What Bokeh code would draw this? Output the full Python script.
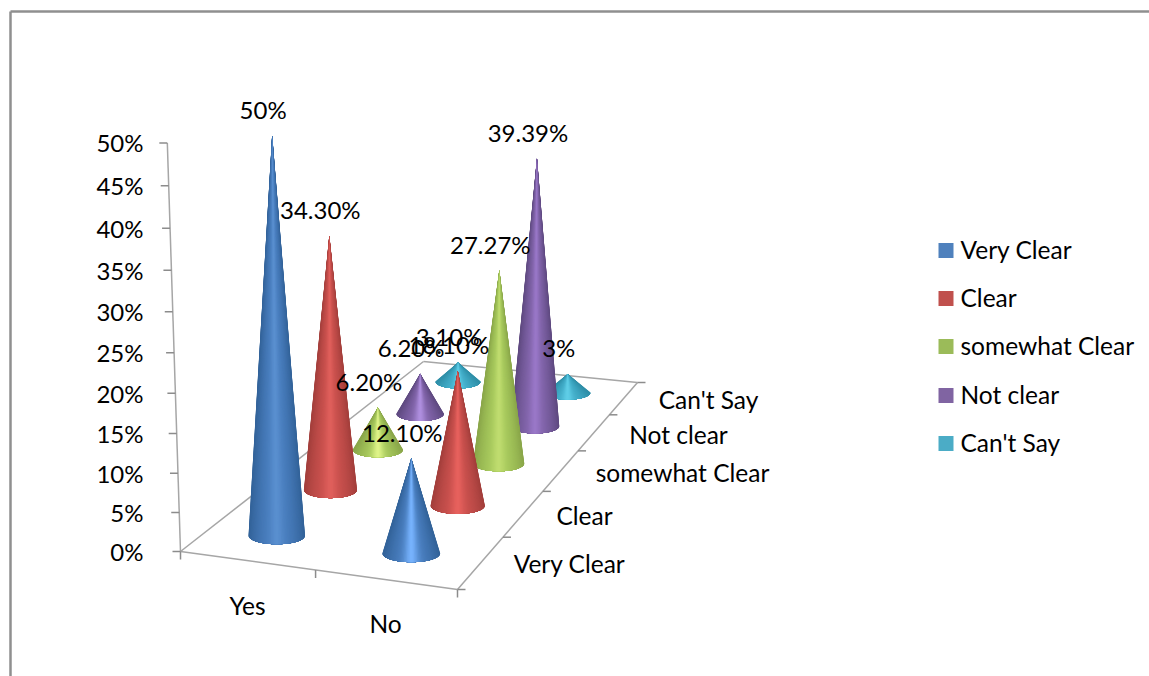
import numpy as np
from bokeh.plotting import figure
from bokeh.models import ColumnDataSource
from bokeh.core.properties import value
from bokeh.embed import file_html
from bokeh.resources import INLINE

# ---------- data ----------
CATEGORIES = ["Yes", "No"]
SERIES = ["Very Clear", "Clear", "somewhat Clear", "Not clear", "Can't Say"]
YES_VALUES = [50.0, 34.30, 6.20, 6.20, 3.10]
NO_VALUES = [12.10, 18.10, 27.27, 39.39, 3.0]
YES_LABELS = ["50%", "34.30%", "6.20%", "6.20%", "3.10%"]
NO_LABELS = ["12.10%", "18.10%", "27.27%", "39.39%", "3%"]
Y_TICKS = [0, 5, 10, 15, 20, 25, 30, 35, 40, 45, 50]
Y_MAX = 50.0

# ---------- styles ----------
LEGEND_COLORS = ["#4f81bd", "#c0504d", "#9bbb59", "#8064a2", "#4bacc6"]
EDGE = ["#336399", "#a33f3c", "#8aa64a", "#5f4a80", "#2e8fa8"]
MID = ["#4a7fc0", "#cc524f", "#a9cc5e", "#8466ad", "#45b0cc"]
HI_YES = ["#5a90d0", "#e0605c", "#e0f58a", "#b090e0", "#60cfe8"]
HI_NO = ["#78b4ff", "#e8625e", "#c0dd70", "#9a78c8", "#60cfe8"]
AXIS = "#a6a6a6"
TICK = "#8c8c8c"
FONT = value("Lato")
SIZE = "24px"
WORD_SIZE = "24.5px"

# ---------- camera: floor corners in page pixels ----------
FLOOR = {(0, 0): (180, 551), (2, 0): (457, 589), (2, 5): (637, 382), (0, 5): (423, 361)}


def homography(corners):
    a, b = [], []
    for (u, v), (x, y) in corners.items():
        a.append([u, v, 1, 0, 0, 0, -u * x, -v * x]); b.append(x)
        a.append([0, 0, 0, u, v, 1, -u * y, -v * y]); b.append(y)
    return np.append(np.linalg.solve(np.array(a, float), np.array(b, float)), 1).reshape(3, 3)


H = homography(FLOOR)


def floor(u, v):
    x, y, w = H @ np.array([u, v, 1.0])
    return x / w, y / w


def rise(pct):
    t = pct / Y_MAX
    return t / (t + (1 - t) * 1.055) if t > 0 else 0.0


def scale_at(y):
    return 322 + 0.515 * (y - 383)


def project(u, v, pct):
    x, y = floor(u, v)
    s = scale_at(y)
    d = rise(pct) * s
    lean = 5.6e-7 * (x - 420) * abs(x - 420)
    return x + lean * d, y - d


def hex2rgb(c):
    return np.array([int(c[i:i + 2], 16) for i in (1, 3, 5)], float)


def shade(edge, mid, hi, t):
    e, m, h = hex2rgb(edge), hex2rgb(mid), hex2rgb(hi)
    a = 1 - abs(t) ** 2.2
    c = e + (m - e) * a + (h - m) * np.exp(-(t / 0.28) ** 2)
    c = np.clip(c, 0, 255).astype(int)
    return "#%02x%02x%02x" % tuple(c)


p = figure(width=1149, height=676, x_range=(0, 1149), y_range=(676, 0),
           output_backend="svg", toolbar_location=None, min_border=0,
           outline_line_color=None, background_fill_color="white")
p.axis.visible = False
p.grid.visible = False

# page frame
p.segment([10, 10], [11, 11], [1149, 10], [11, 676], line_color="#8f8f8f", line_width=2.5)

# floor outline
rim = [(0, 0), (2, 0), (2, 5), (0, 5), (0, 0)]
for (a, b), (c, d) in zip(rim[:-1], rim[1:]):
    x0, y0 = floor(a, b)
    x1, y1 = floor(c, d)
    p.line([x0, x1], [y0, y1], line_color=AXIS, line_width=1.5)

# value wall axis
bx, by = project(0, 0, 0)
tx, ty = project(0, 0, Y_MAX)
p.line([bx, tx], [by, ty], line_color=AXIS, line_width=1.5)
wall = [project(0, 0, t) for t in Y_TICKS]
p.segment([w[0] - 8 for w in wall], [w[1] for w in wall], [w[0] for w in wall], [w[1] for w in wall],
          line_color=TICK, line_width=1.5)
p.text([143] * len(Y_TICKS), [w[1] for w in wall], text=[f"{t}%" for t in Y_TICKS],
       text_font=FONT, text_font_size=SIZE, text_align="right", text_baseline="middle", text_color="#000000")

# category ticks
front = [floor(u, 0) for u in range(len(CATEGORIES) + 1)]
p.segment([f[0] for f in front], [f[1] for f in front], [f[0] for f in front], [f[1] + 8 for f in front],
          line_color=TICK, line_width=1.5)
right = [floor(2, v) for v in range(len(SERIES) + 1)]
p.segment([r[0] for r in right], [r[1] for r in right], [r[0] + 8 for r in right], [r[1] for r in right],
          line_color=TICK, line_width=1.5)

# cones, back to front; each shade is a nested fan, outermost first, so no seam shows
cones = []
for ci, vals in enumerate([YES_VALUES, NO_VALUES]):
    for si, val in enumerate(vals):
        u, v = ci + 0.5, si + 0.5
        cones.append((floor(u, v)[1], u, v, val, si, ci))
cones.sort()
xs, ys, fills = [], [], []
N = 30
for _, u, v, val, si, ci in cones:
    cx, cy = floor(u, v)
    tipx, tipy = project(u, v, val)
    r = 0.0705 * scale_at(cy)
    hi = (HI_YES if ci == 0 else HI_NO)[si]
    th = np.linspace(0, np.pi / 2, N + 1)
    for i in range(N):
        arc = np.linspace(th[i], np.pi - th[i], 40)
        xs.append([tipx] + (cx + r * np.cos(arc)).tolist())
        ys.append([tipy] + (cy + r * 0.31 * np.sin(arc)).tolist())
        fills.append(shade(EDGE[si], MID[si], hi, float(np.cos(th[i]))))
p.patches(xs="xs", ys="ys", fill_color="fill", line_color=None,
          source=ColumnDataSource(dict(xs=xs, ys=ys, fill=fills)))

# data labels
lx, ly, lt = [], [], []
for ci, (vals, labs) in enumerate([(YES_VALUES, YES_LABELS), (NO_VALUES, NO_LABELS)]):
    for si, (val, lab) in enumerate(zip(vals, labs)):
        x, y = project(ci + 0.5, si + 0.5, val)
        lx.append(x - 9); ly.append(y - 26); lt.append(lab)
p.text(lx, ly, text=lt, text_font=FONT, text_font_size=SIZE, text_align="center",
       text_baseline="middle", text_color="#000000")

# axis category labels
p.text([247, 385], [605, 623], text=CATEGORIES, text_font=FONT, text_font_size=WORD_SIZE,
       text_align="center", text_baseline="middle", text_color="#000000")
p.text([569, 584, 682, 678, 708], [563, 515, 472, 434, 399], text=SERIES, text_font=FONT,
       text_font_size=WORD_SIZE, text_align="center", text_baseline="middle", text_color="#000000")

# legend
LEG_Y = [250, 298, 346, 395, 443]
p.quad(left=[938] * 5, right=[953] * 5, top=[y - 7.5 for y in LEG_Y], bottom=[y + 7.5 for y in LEG_Y],
       fill_color=LEGEND_COLORS, line_color=None)
p.text([960] * 5, [y - 1 for y in LEG_Y], text=SERIES, text_font=FONT, text_font_size=WORD_SIZE, text_align="left",
       text_baseline="middle", text_color="#000000")

open("out.html", "w").write(file_html(p, INLINE))
